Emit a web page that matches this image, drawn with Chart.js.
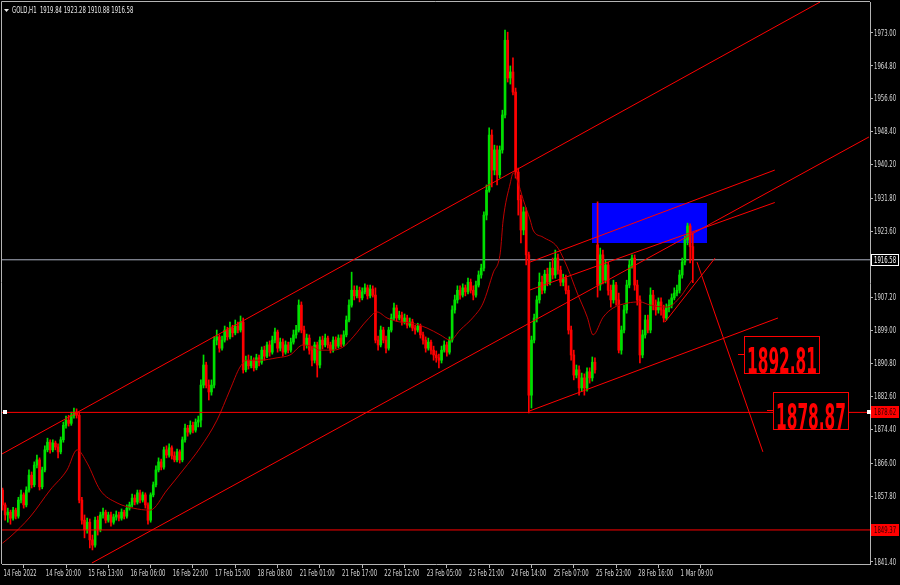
<!DOCTYPE html>
<html>
<head>
<meta charset="utf-8">
<script src="https://cdn.jsdelivr.net/npm/chart.js@4.4.0/dist/chart.umd.min.js"></script>
<style>
  html, body { margin: 0; padding: 0; background: #000; }
  #wrap { width: 900px; height: 585px; }
</style>
</head>
<body>
<div id="wrap"><canvas id="chart" width="900" height="585"></canvas></div>
<script>
// GOLD H1, 14 Feb 2022 04:00 .. 1 Mar 2022 14:00
var dateIdx = [0, 16, 32, 48, 64, 80, 96, 112, 128, 144, 160, 176, 192, 208, 224, 240, 256];
var dateLabels = ['14 Feb 2022', '14 Feb 20:00', '15 Feb 13:00', '16 Feb 06:00', '16 Feb 22:00', '17 Feb 15:00',
  '18 Feb 08:00', '21 Feb 01:00', '21 Feb 17:00', '22 Feb 12:00', '23 Feb 05:00', '23 Feb 21:00',
  '24 Feb 14:00', '25 Feb 07:00', '25 Feb 23:00', '28 Feb 16:00', '1 Mar 09:00'];
var yTicks = [1841.40, 1857.80, 1866.00, 1874.40, 1882.60, 1890.80, 1899.00, 1907.20,
  1923.60, 1931.80, 1940.20, 1948.40, 1956.60, 1964.80, 1973.00];

var opens = [
1859.3,1855.6,1853.1,1853.8,1852.3,1854.3,1852.8,1856.8,1858.1,1855.6,
1859.3,1863.0,1860.6,1865.5,1866.8,1860.1,1864.3,1869.3,1871.2,1869.3,
1871.0,1870.0,1868.8,1871.8,1875.4,1876.7,1875.9,1877.9,1878.7,1877.9,
1856.8,1851.8,1849.4,1851.3,1846.9,1845.6,1851.8,1849.4,1853.1,1853.8,
1851.8,1853.1,1851.3,1852.6,1853.1,1852.3,1853.8,1852.8,1854.8,1855.6,
1857.3,1856.3,1858.6,1856.8,1858.1,1855.6,1851.8,1858.1,1860.6,1864.3,
1866.3,1865.0,1869.3,1868.0,1869.8,1867.8,1866.8,1868.8,1866.8,1871.8,
1874.7,1873.7,1875.4,1874.2,1876.2,1876.7,1885.4,1890.4,1885.4,1883.7,
1885.4,1896.6,1897.4,1894.6,1896.6,1899.1,1897.4,1899.6,1898.4,1900.1,
1899.1,1901.1,1889.2,1891.6,1890.2,1891.6,1889.7,1892.2,1891.1,1894.1,
1892.6,1895.4,1893.6,1896.6,1898.6,1894.6,1896.1,1893.6,1895.4,1894.1,
1896.1,1897.9,1899.1,1905.3,1899.1,1895.4,1897.1,1894.1,1891.6,1895.4,
1890.4,1896.6,1895.4,1897.1,1895.4,1894.1,1896.6,1895.1,1897.1,1895.6,
1897.9,1901.6,1905.3,1909.0,1907.6,1909.0,1907.1,1908.6,1909.6,1907.6,
1909.3,1907.8,1896.6,1895.4,1899.1,1896.6,1894.6,1899.1,1902.1,1904.6,
1902.1,1902.8,1901.1,1902.1,1900.3,1901.1,1899.6,1899.1,1900.1,1897.9,
1896.6,1894.6,1896.1,1894.1,1892.9,1892.2,1891.6,1894.1,1895.4,1893.6,
1896.6,1904.1,1906.6,1909.0,1907.8,1909.6,1908.6,1911.0,1909.0,1907.8,
1910.3,1912.8,1914.5,1927.7,1933.9,1947.6,1938.9,1943.9,1937.7,1943.9,
1952.6,1971.2,1961.8,1963.3,1958.3,1938.4,1931.5,1924.0,1928.5,1917.8,
1882.9,1896.6,1902.1,1906.6,1911.0,1909.0,1913.0,1911.0,1914.5,1912.8,
1917.0,1914.0,1911.0,1912.0,1909.0,1899.1,1892.9,1887.9,1889.2,1884.7,
1887.2,1884.7,1888.7,1887.2,1891.1,1920.3,1910.3,1917.8,1911.5,1915.3,
1909.0,1906.6,1910.3,1906.6,1894.1,1899.1,1904.1,1910.3,1915.3,1917.0,
1910.3,1906.6,1892.9,1897.9,1901.6,1899.1,1907.8,1905.3,1904.1,1906.1,
1904.1,1902.1,1904.6,1905.3,1907.1,1908.3,1909.0,1912.8,1916.0,1921.5,
1925.0,1919.84];
var highs = [
1859.8,1856.1,1854.8,1854.3,1855.0,1854.8,1857.5,1859.3,1858.6,1860.1,
1864.3,1863.8,1866.3,1868.0,1867.3,1865.0,1870.3,1872.2,1871.8,1871.8,
1871.5,1870.8,1872.5,1876.2,1877.7,1877.9,1878.7,1879.7,1879.5,1878.7,
1857.5,1853.1,1852.3,1852.1,1848.1,1852.6,1852.8,1853.8,1854.8,1854.3,
1853.8,1853.8,1853.3,1854.1,1853.8,1854.6,1854.3,1855.6,1856.3,1858.3,
1858.1,1859.3,1859.3,1858.8,1858.6,1856.1,1858.6,1861.3,1865.3,1867.3,
1867.0,1870.0,1870.3,1870.8,1870.3,1868.8,1869.5,1869.3,1872.5,1875.7,
1875.4,1876.5,1876.2,1877.0,1877.7,1886.7,1892.9,1891.1,1886.7,1886.7,
1897.4,1899.1,1897.9,1897.6,1900.1,1899.8,1901.1,1900.3,1901.6,1901.1,
1902.6,1902.1,1892.6,1892.9,1892.6,1892.2,1893.1,1892.9,1894.9,1895.1,
1896.1,1896.4,1897.6,1899.6,1899.1,1897.1,1896.9,1896.4,1896.1,1897.1,
1899.1,1900.3,1906.6,1906.1,1900.1,1898.1,1897.9,1895.1,1896.1,1896.1,
1897.4,1897.6,1898.1,1897.6,1896.1,1897.4,1897.4,1897.9,1897.9,1898.9,
1902.6,1906.6,1913.5,1910.1,1910.1,1909.8,1909.6,1910.6,1910.3,1910.3,
1910.1,1909.6,1897.6,1900.1,1899.8,1897.6,1899.8,1903.1,1905.8,1905.3,
1903.8,1903.6,1903.1,1902.8,1902.1,1901.8,1900.3,1900.8,1900.6,1898.6,
1897.4,1897.1,1896.6,1895.1,1893.9,1893.1,1895.1,1896.4,1896.1,1897.4,
1905.1,1907.8,1910.1,1910.1,1910.6,1910.3,1912.0,1911.8,1910.1,1911.3,
1913.8,1915.5,1928.5,1935.2,1949.4,1948.9,1945.1,1944.9,1944.9,1953.8,
1973.7,1973.2,1964.8,1966.8,1959.3,1939.4,1932.7,1929.7,1929.5,1918.5,
1897.6,1903.1,1907.6,1913.3,1912.5,1914.0,1914.5,1916.0,1917.0,1919.0,
1918.0,1915.0,1913.0,1912.8,1910.1,1900.1,1894.1,1890.4,1890.2,1888.4,
1888.2,1889.7,1889.7,1892.4,1892.2,1931.0,1919.5,1919.0,1916.5,1916.0,
1910.3,1911.5,1911.0,1908.3,1900.1,1905.3,1911.5,1916.5,1917.8,1917.8,
1911.5,1907.6,1899.1,1902.8,1902.8,1909.6,1909.0,1906.6,1907.1,1907.1,
1905.3,1905.6,1906.6,1908.1,1909.6,1910.3,1914.0,1917.0,1922.5,1925.7,
1925.5,1923.28];
var lows = [
1854.3,1851.8,1851.3,1850.8,1851.8,1852.1,1852.3,1856.1,1854.8,1855.1,
1858.8,1859.8,1860.1,1864.8,1859.3,1859.6,1863.8,1868.8,1868.5,1868.8,
1869.3,1867.3,1868.3,1871.2,1874.7,1875.2,1875.4,1877.2,1877.2,1856.1,
1850.8,1847.4,1848.6,1844.9,1844.4,1845.1,1848.1,1848.9,1852.3,1851.1,
1851.3,1850.3,1850.8,1851.8,1851.6,1851.8,1852.1,1852.3,1854.3,1855.1,
1855.6,1855.8,1856.1,1856.3,1854.8,1850.8,1851.3,1857.6,1860.1,1863.8,
1864.3,1864.5,1867.3,1867.5,1867.0,1866.3,1866.3,1866.0,1866.3,1871.2,
1872.7,1873.2,1873.5,1873.7,1875.0,1875.0,1884.7,1884.7,1881.7,1882.9,
1884.7,1895.4,1893.6,1894.1,1896.1,1896.6,1896.9,1897.4,1897.9,1898.4,
1898.6,1888.4,1888.7,1889.4,1889.7,1888.9,1889.2,1890.2,1890.6,1891.6,
1892.2,1892.6,1893.1,1895.9,1893.6,1893.9,1892.6,1893.1,1893.4,1893.6,
1895.6,1897.1,1898.6,1898.4,1894.1,1894.6,1893.1,1890.2,1890.9,1887.4,
1889.7,1894.4,1894.9,1894.6,1893.4,1893.6,1894.4,1894.6,1894.9,1895.1,
1897.4,1901.1,1904.8,1906.6,1907.1,1906.1,1906.6,1908.1,1906.8,1907.1,
1907.3,1895.9,1894.1,1894.9,1895.9,1893.4,1894.1,1898.6,1901.6,1901.3,
1901.6,1900.3,1900.6,1899.6,1899.8,1898.9,1898.1,1898.6,1897.1,1895.6,
1893.6,1894.1,1893.1,1891.6,1891.1,1889.7,1890.9,1893.6,1892.6,1893.1,
1896.1,1903.3,1905.8,1906.8,1907.3,1907.6,1908.1,1908.3,1906.6,1907.3,
1909.8,1912.0,1913.8,1926.5,1933.4,1934.7,1937.7,1935.2,1936.9,1943.1,
1951.9,1960.8,1960.3,1957.6,1936.9,1927.7,1920.8,1922.8,1915.3,1878.5,
1879.7,1895.9,1901.1,1905.8,1908.1,1908.3,1910.1,1910.3,1911.8,1912.0,
1913.0,1910.1,1910.1,1908.1,1898.1,1891.6,1886.7,1887.2,1882.9,1883.9,
1882.9,1883.9,1885.9,1886.4,1888.4,1907.3,1909.0,1910.6,1910.8,1907.8,
1904.8,1905.8,1905.3,1893.4,1893.1,1898.4,1903.3,1909.6,1914.5,1909.0,
1905.3,1890.9,1892.2,1897.1,1898.4,1898.4,1904.1,1902.8,1903.3,1902.8,
1901.1,1901.6,1903.6,1904.6,1906.6,1907.6,1908.3,1912.0,1915.3,1920.3,
1915.8,1910.88];
var closes = [
1855.6,1853.1,1853.8,1852.3,1854.3,1852.8,1856.8,1858.1,1855.6,1859.3,
1863.0,1860.6,1865.5,1866.8,1860.1,1864.3,1869.3,1871.2,1869.3,1871.0,
1870.0,1868.8,1871.8,1875.4,1876.7,1875.9,1877.9,1878.7,1877.9,1856.8,
1851.8,1849.4,1851.3,1846.9,1845.6,1851.8,1849.4,1853.1,1853.8,1851.8,
1853.1,1851.3,1852.6,1853.1,1852.3,1853.8,1852.8,1854.8,1855.6,1857.3,
1856.3,1858.6,1856.8,1858.1,1855.6,1851.8,1858.1,1860.6,1864.3,1866.3,
1865.0,1869.3,1868.0,1869.8,1867.8,1866.8,1868.8,1866.8,1871.8,1874.7,
1873.7,1875.4,1874.2,1876.2,1876.7,1885.4,1890.4,1885.4,1883.7,1885.4,
1896.6,1897.4,1894.6,1896.6,1899.1,1897.4,1899.6,1898.4,1900.1,1899.1,
1901.1,1889.2,1891.6,1890.2,1891.6,1889.7,1892.2,1891.1,1894.1,1892.6,
1895.4,1893.6,1896.6,1898.6,1894.6,1896.1,1893.6,1895.4,1894.1,1896.1,
1897.9,1899.1,1905.3,1899.1,1895.4,1897.1,1894.1,1891.6,1895.4,1890.4,
1896.6,1895.4,1897.1,1895.4,1894.1,1896.6,1895.1,1897.1,1895.6,1897.9,
1901.6,1905.3,1909.0,1907.6,1909.0,1907.1,1908.6,1909.6,1907.6,1909.3,
1907.8,1896.6,1895.4,1899.1,1896.6,1894.6,1899.1,1902.1,1904.6,1902.1,
1902.8,1901.1,1902.1,1900.3,1901.1,1899.6,1899.1,1900.1,1897.9,1896.6,
1894.6,1896.1,1894.1,1892.9,1892.2,1891.6,1894.1,1895.4,1893.6,1896.6,
1904.1,1906.6,1909.0,1907.8,1909.6,1908.6,1911.0,1909.0,1907.8,1910.3,
1912.8,1914.5,1927.7,1933.9,1947.6,1938.9,1943.9,1937.7,1943.9,1952.6,
1971.2,1961.8,1963.3,1958.3,1938.4,1931.5,1924.0,1928.5,1917.8,1882.9,
1896.6,1902.1,1906.6,1911.0,1909.0,1913.0,1911.0,1914.5,1912.8,1917.0,
1914.0,1911.0,1912.0,1909.0,1899.1,1892.9,1887.9,1889.2,1884.7,1887.2,
1884.7,1888.7,1887.2,1891.1,1889.2,1910.3,1917.8,1911.5,1915.3,1909.0,
1906.6,1910.3,1906.6,1894.1,1899.1,1904.1,1910.3,1915.3,1917.0,1910.3,
1906.6,1892.9,1897.9,1901.6,1899.1,1907.8,1905.3,1904.1,1906.1,1904.1,
1902.1,1904.6,1905.3,1907.1,1908.3,1909.0,1912.8,1916.0,1921.5,1925.0,
1919.8,1916.58];

// moving average: [bar, price]
var maLine = [[0,1846.1],[2.8,1847.6],[10.4,1852.6],[18,1859.3],[24.4,1864.3],[28.2,1869.3],[32,1866.0],
  [36.9,1859.3],[43.3,1856.1],[49.4,1854.8],[55.8,1854.3],[62.2,1859.3],[68.3,1864.3],[74.7,1869.8],
  [81.1,1876.7],[86,1884.2],[89.8,1889.9],[92.5,1891.6],[97.4,1891.6],[103.8,1892.2],[108.7,1892.9],
  [113.7,1895.4],[117.4,1894.9],[120,1894.1],[125,1894.1],[128.8,1894.9],[132.6,1897.4],[137.9,1901.6],
  [141.6,1903.6],[145.4,1902.1],[150.3,1901.1],[154.1,1900.9],[160.5,1899.6],[165.5,1897.9],[169.3,1896.6],
  [173,1899.1],[178,1902.3],[181.7,1905.8],[185.5,1913.3],[188.2,1918.3],[189.3,1926.5],[192,1935.7],
  [193.1,1938.2],[194.6,1936.4],[196.9,1931.5],[199.5,1926.5],[200.6,1924.0],[204.4,1922.2],[209.7,1919.8],
  [213.5,1914.8],[217.3,1908.3],[221.1,1902.3],[223.3,1897.9],[227.1,1902.3],[230.9,1904.6],[236.2,1905.8],
  [241,1906.1],[244.9,1905.3],[251.3,1904.8],[256.2,1907.3],[258.9,1909.8],[260.8,1911.6]];

// trend lines: [bar1, price1, bar2, price2]
var trendLines = [
  [-0.96, 1868.0, 309.1, 1980.7],
  [33.8, 1841.15, 327.6, 1947.13],
  [199.4, 1916.0, 292.0, 1938.9],
  [199.4, 1909.06, 292.0, 1930.83],
  [199.4, 1879.0, 293.2, 1902.1],
  [262.6, 1916.0, 287.5, 1868.8],
  [250.5, 1901.1, 269.4, 1917.0]
];
var hLevels = [1878.62, 1849.37];
var bidPrice = 1916.58;
var zoneBars = [222.9, 266.3];
var zonePrices = [1930.7, 1920.76];
var noteTexts = ['1892.81', '1878.87'];
var noteBars = [280.3, 291.3];
var notePrices = [1892.81, 1878.87];
var header = 'GOLD,H1  1919.84 1923.28 1910.88 1916.58';

var FONT = '"DejaVu Sans Condensed", "Liberation Sans Narrow", sans-serif';
var GREY = '#b4b4b4';
var TXT = '#d8d8d8';
var XMIN = -0.2, XMAX = 328.0;

var wickData = [], bodyData = [], barColors = [];
for (var i = 0; i < closes.length; i++) {
  wickData.push({x: i, y: [lows[i], highs[i]]});
  bodyData.push({x: i, y: [opens[i], closes[i]]});
  barColors.push(closes[i] >= opens[i] ? '#00e000' : '#ff0000');
}

var datasets = [];
trendLines.forEach(function (t) {
  datasets.push({type: 'line', data: [{x: t[0], y: t[1]}, {x: t[2], y: t[3]}],
    borderColor: '#ff0000', borderWidth: 1, pointRadius: 0, order: 0});
});
hLevels.forEach(function (p) {
  datasets.push({type: 'line', data: [{x: XMIN, y: p}, {x: XMAX, y: p}],
    borderColor: '#ff0000', borderWidth: 1, pointRadius: 0, order: 0});
});
datasets.push({type: 'line', data: [{x: XMIN, y: bidPrice}, {x: XMAX, y: bidPrice}],
  borderColor: '#aab0c0', borderWidth: 1, pointRadius: 0, order: 3});
datasets.push({type: 'line', data: maLine.map(function (p) { return {x: p[0], y: p[1]}; }),
  borderColor: '#c00000', borderWidth: 1, pointRadius: 0, cubicInterpolationMode: 'monotone', order: 1});
datasets.push({type: 'bar', data: wickData, backgroundColor: barColors, barThickness: 1,
  grouped: false, order: 2});
datasets.push({type: 'bar', data: bodyData, backgroundColor: barColors, barThickness: 2,
  minBarLength: 1, grouped: false, order: 2});

// small terminal-style text: condensed font squeezed horizontally
var squeeze = 1;
function narrowText(ctx, text, x, y, size, color, align) {
  ctx.save();
  ctx.font = size + 'px ' + FONT;
  ctx.fillStyle = color;
  ctx.textBaseline = 'middle';
  ctx.textAlign = align || 'left';
  ctx.translate(x, y);
  ctx.scale(squeeze, 1);
  ctx.fillText(text, 0, 0);
  ctx.restore();
}

var decor = {
  id: 'decor',
  beforeDatasetsDraw: function (chart) {
    var ctx = chart.ctx, a = chart.chartArea, x = chart.scales.x, y = chart.scales.y;
    ctx.save();
    ctx.beginPath();
    ctx.rect(a.left, a.top, a.right - a.left, a.bottom - a.top);
    ctx.clip();
    var x1 = Math.round(x.getPixelForValue(zoneBars[0])), x2 = Math.round(x.getPixelForValue(zoneBars[1]));
    var y1 = Math.round(y.getPixelForValue(zonePrices[0])), y2 = Math.round(y.getPixelForValue(zonePrices[1]));
    ctx.fillStyle = '#0000ff';
    ctx.fillRect(x1, y1, x2 - x1, y2 - y1);
    ctx.restore();
  },
  afterDraw: function (chart) {
    var ctx = chart.ctx, a = chart.chartArea, x = chart.scales.x, y = chart.scales.y;
    ctx.save();
    ctx.font = '8px ' + FONT;
    squeeze = 35 / ctx.measureText('14 Feb 20:00').width;

    // frame left / top
    ctx.strokeStyle = GREY;
    ctx.lineWidth = 1;
    ctx.beginPath();
    ctx.moveTo(a.left - 0.5, a.bottom);
    ctx.lineTo(a.left - 0.5, a.top - 0.5);
    ctx.lineTo(a.right, a.top - 0.5);
    ctx.stroke();

    // axis labels, placed by the scales
    x.ticks.forEach(function (t, k) {
      narrowText(ctx, dateLabels[k], x.getPixelForValue(t.value) + 1, 574, 8, TXT);
    });
    y.ticks.forEach(function (t) {
      narrowText(ctx, t.value.toFixed(2), a.right + 4, y.getPixelForValue(t.value) + 0.5, 8, TXT);
    });

    // header
    ctx.fillStyle = '#e8e8e8';
    ctx.beginPath();
    ctx.moveTo(4, 9); ctx.lineTo(9, 9); ctx.lineTo(6.5, 12); ctx.closePath();
    ctx.fill();
    narrowText(ctx, header, 12, 11, 8, '#e8e8e8');

    // notes with boxes
    for (var i = 0; i < noteTexts.length; i++) {
      var nx = Math.round(x.getPixelForValue(noteBars[i]));
      var ny = Math.round(y.getPixelForValue(notePrices[i]));
      ctx.fillStyle = '#000';
      ctx.fillRect(nx, ny - 19, 76, 38);
      ctx.strokeStyle = '#ff0000';
      ctx.lineWidth = 1;
      ctx.strokeRect(nx + 0.5, ny - 18.5, 75, 37);
      ctx.beginPath();
      ctx.moveTo(nx - 6, ny - 0.5); ctx.lineTo(nx, ny - 0.5);
      ctx.stroke();
      ctx.font = 'bold 36px ' + FONT;
      ctx.textBaseline = 'alphabetic';
      ctx.textAlign = 'center';
      var w = ctx.measureText(noteTexts[i]).width;
      ctx.save();
      ctx.translate(nx + 38, ny + 18);
      ctx.scale(70 / w, 1);
      ctx.fillStyle = '#ff0000';
      ctx.fillText(noteTexts[i], 0, 0);
      ctx.restore();
    }

    // anchors on the 1878.62 line
    var hy = Math.round(y.getPixelForValue(hLevels[0]));
    ctx.fillStyle = '#ffffff';
    ctx.fillRect(a.left + 1, hy - 2, 4, 4);
    ctx.fillRect(a.right - 3, hy - 2, 4, 4);

    // price labels on the right axis
    function axisLabel(p, bg, fg, border) {
      var py = Math.round(y.getPixelForValue(p));
      ctx.fillStyle = bg;
      ctx.fillRect(a.right + 1, py - 6, 28, 12);
      if (border) { ctx.strokeStyle = border; ctx.lineWidth = 1; ctx.strokeRect(a.right + 1.5, py - 5.5, 27, 11); }
      narrowText(ctx, p.toFixed(2), a.right + 4, py + 0.5, 8, fg);
    }
    axisLabel(bidPrice, '#000000', '#ffffff', '#ffffff');
    hLevels.forEach(function (p) { axisLabel(p, '#ff0000', '#300000', null); });
    ctx.restore();
  }
};

new Chart(document.getElementById('chart'), {
  type: 'bar',
  data: {datasets: datasets},
  options: {
    responsive: false,
    devicePixelRatio: 1,
    animation: false,
    events: [],
    layout: {padding: {left: 2, top: 2, right: 0, bottom: 0}},
    plugins: {legend: {display: false}, tooltip: {enabled: false}},
    scales: {
      x: {
        type: 'linear', position: 'bottom', min: XMIN, max: XMAX, offset: false,
        afterFit: function (s) { s.height = 21; },
        afterBuildTicks: function (s) { s.ticks = dateIdx.map(function (v) { return {value: v}; }); },
        ticks: {display: false, autoSkip: false, maxRotation: 0},
        grid: {drawOnChartArea: false, drawTicks: true, tickLength: 4, color: GREY},
        border: {color: GREY}
      },
      y: {
        type: 'linear', position: 'right', min: 1840.9, max: 1980.71,
        afterFit: function (s) { s.width = 30; },
        afterBuildTicks: function (s) { s.ticks = yTicks.map(function (v) { return {value: v}; }); },
        ticks: {display: false, autoSkip: false},
        grid: {drawOnChartArea: false, drawTicks: true, tickLength: 3, color: GREY},
        border: {color: GREY}
      }
    }
  },
  plugins: [decor]
});
</script>
</body>
</html>
